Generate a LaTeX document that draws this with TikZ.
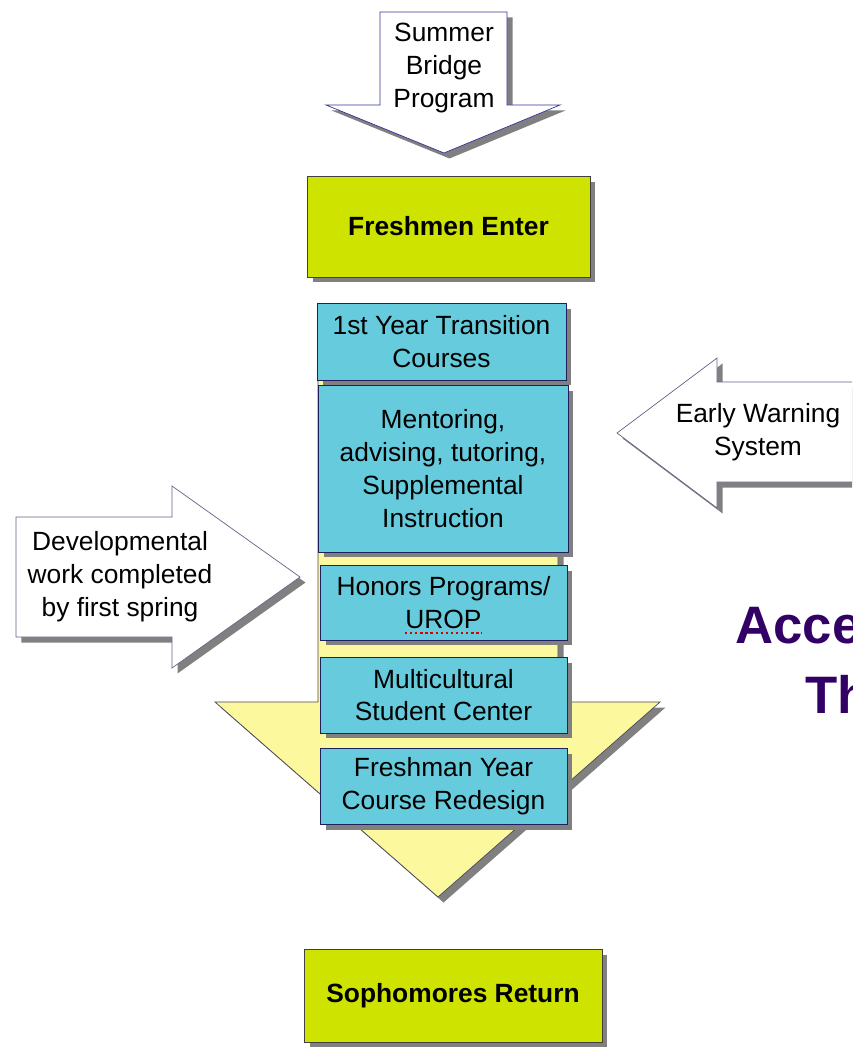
\documentclass[tikz,border=0pt]{standalone}
\usepackage{fontspec}
\setmainfont{Liberation Sans}
\usetikzlibrary{shadows}

\definecolor{limebox}{RGB}{206,228,0}
\definecolor{tealbox}{RGB}{102,204,221}
\definecolor{paleyellow}{RGB}{252,248,158}
\definecolor{navyline}{RGB}{51,51,153}
\definecolor{greyline}{RGB}{100,100,135}
\definecolor{titlepurple}{RGB}{51,0,102}

\begin{document}
\begin{tikzpicture}[x=0.02cm,y=-0.02cm,
    boxshadow/.style={drop shadow={shadow xshift=0.11cm,shadow yshift=-0.11cm,fill=black!50,opacity=1}},
    stagebox/.style={draw=black!75,fill=limebox,boxshadow,inner sep=0pt,
        font=\bfseries\fontsize{15}{18}\selectfont},
    supportbox/.style={draw=navyline!60!black,fill=tealbox,boxshadow,inner sep=0pt,
        align=center,font=\fontsize{15}{18.7}\selectfont},
    inarrow/.style={draw=greyline,fill=white,boxshadow,line join=miter},
    flowarrow/.style={draw=greyline!70!black,fill=paleyellow,boxshadow},
    arrowtext/.style={align=center,font=\fontsize{15}{18.7}\selectfont},
    titletext/.style={anchor=base west,inner sep=0pt,text=titlepurple,
        font=\bfseries\fontsize{30}{36}\selectfont}]
    \useasboundingbox (0,0) rectangle (852,1047);
    \clip (0,0) rectangle (852,1047);

    % summer bridge arrow
    \filldraw[inarrow,draw=navyline] (380,12) -- (507,12) -- (507,105) -- (560,105)
        -- (444,153) -- (326,105) -- (380,105) -- cycle;
    \node (bridge) at (444,68) [arrowtext] {Summer\\Bridge\\Program};

    \node (enter) at (448.5,226.5) [stagebox,minimum width=5.66cm,minimum height=2.02cm] {Freshmen Enter};

    % big yellow arrow
    \filldraw[flowarrow] (318,308) -- (558,308) -- (558,702) -- (660,702)
        -- (438,897) -- (215,702) -- (318,702) -- cycle;

    \node (transit) at (441.5,341.5) [supportbox,minimum width=4.98cm,minimum height=1.54cm] {1st Year Transition\\Courses};
    \node (mentor) at (443,468.5) [supportbox,minimum width=5cm,minimum height=3.34cm] {Mentoring,\\advising, tutoring,\\Supplemental\\Instruction};
    \node (honors) at (443.5,602.5) [supportbox,minimum width=4.94cm,minimum height=1.5cm] {Honors Programs/\\UROP};
    \draw[red!85!black,line width=1.3pt,dash pattern=on 1.3pt off 1.6pt] (405,633) -- (482,633);
    \node (multi) at (443.5,695) [supportbox,minimum width=4.94cm,minimum height=1.52cm] {Multicultural\\Student Center};
    \node (redesign) at (443.5,786) [supportbox,minimum width=4.94cm,minimum height=1.52cm] {Freshman Year\\Course Redesign};

    % early warning arrow
    \filldraw[inarrow] (870,382) -- (717,382) -- (717,358) -- (617,433)
        -- (717,508) -- (717,482) -- (870,482) -- cycle;
    \node (warning) at (758,432) [arrowtext] {Early Warning\\System};

    % developmental arrow
    \filldraw[inarrow] (16,517) -- (172,517) -- (172,486) -- (300,577)
        -- (172,668) -- (172,637) -- (16,637) -- cycle;
    \node (develop) at (120,577) [arrowtext] {Developmental\\work completed\\by first spring};

    \node (sophomore) at (453,995.5) [stagebox,minimum width=5.96cm,minimum height=1.86cm] {Sophomores Return};

    \node (titleA) at (735,643) [titletext] {Acce};
    \node (titleB) at (805,713) [titletext] {Th};
\end{tikzpicture}
\end{document}
